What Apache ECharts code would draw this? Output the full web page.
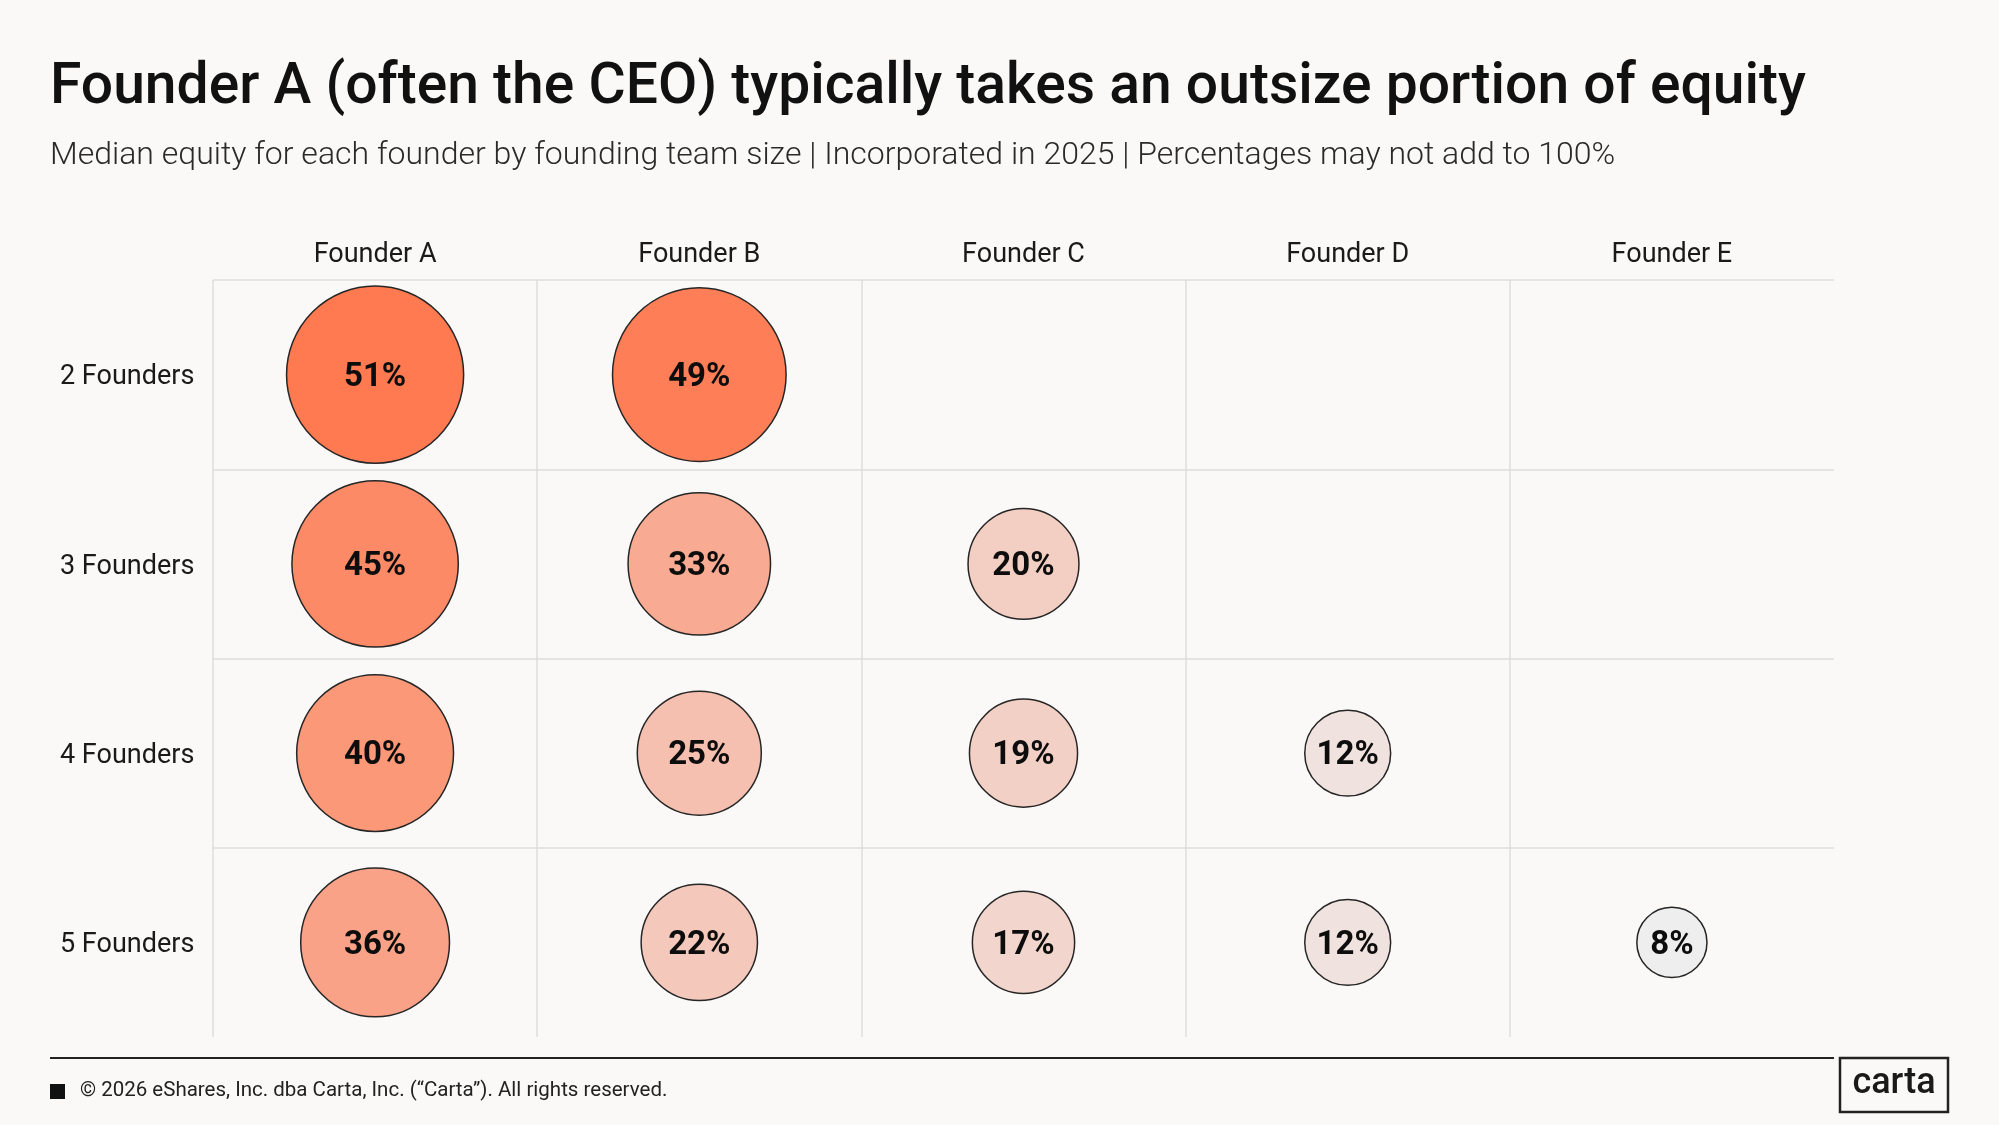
<!DOCTYPE html>
<html>
<head>
<meta charset="utf-8">
<title>Founder equity by team size</title>
<style>
    html, body { margin: 0; padding: 0; background: #faf9f7; }
    #main { width: 1999px; height: 1125px; }
</style>
</head>
<body>
<div id="main"></div>
<script src="https://cdn.jsdelivr.net/npm/echarts@6/dist/echarts.min.js"></script>
<script>
    var founders = ['Founder A', 'Founder B', 'Founder C', 'Founder D', 'Founder E'];
    var teamSizes = ['2 Founders', '3 Founders', '4 Founders', '5 Founders'];
    // median equity (%) per founder, one list per team size
    var equity2 = [51, 49];
    var equity3 = [45, 33, 20];
    var equity4 = [40, 25, 19, 12];
    var equity5 = [36, 22, 17, 12, 8];

    var rows = [equity2, equity3, equity4, equity5];
    var points = [];
    rows.forEach(function (row, r) {
        row.forEach(function (v, c) {
            points.push([founders[c], teamSizes[r], v]);
        });
    });

    // categories are fed in reverse so the skipped tick (index 0) is the
    // outer right / bottom edge, which has no grid line in the original
    var xCats = founders.slice().reverse();
    var yCats = teamSizes.slice().reverse();
    var skipFirst = function (i) { return i > 0; };
    var gridLine = { color: '#dcdcdc', width: 1.5 };

    var myChart = echarts.init(document.getElementById('main'));
    var option = {
        backgroundColor: '#faf9f7',
        textStyle: { fontFamily: 'Roboto' },
        title: [
            {
                text: 'Founder A (often the CEO) typically takes an outsize portion of equity',
                left: 50, top: 60, padding: 0,
                textStyle: { fontFamily: 'Roboto', fontSize: 57, fontWeight: 500, color: '#111111' }
            },
            {
                text: 'Median equity for each founder by founding team size | Incorporated in 2025 | Percentages may not add to 100%',
                left: 50, top: 140, padding: 0,
                textStyle: { fontFamily: 'Roboto', fontSize: 32, fontWeight: 300, color: '#2a2a2a' }
            }
        ],
        grid: { left: 213, right: 165, top: 280, bottom: 88 },
        xAxis: {
            type: 'category',
            data: xCats,
            inverse: true,
            position: 'top',
            axisLine: { show: false },
            axisTick: { length: 47, interval: skipFirst, lineStyle: gridLine },
            splitLine: { show: true, interval: skipFirst, lineStyle: gridLine },
            axisLabel: { margin: 25, verticalAlign: 'middle', fontSize: 27, color: '#1a1a1a' }
        },
        yAxis: {
            type: 'category',
            data: yCats,
            axisLine: { show: false },
            axisTick: { length: 163, interval: skipFirst, lineStyle: gridLine },
            splitLine: { show: true, interval: skipFirst, lineStyle: gridLine },
            axisLabel: {
                margin: 153, align: 'left', verticalAlign: 'middle',
                formatter: '{row|{value}}',
                rich: { row: { fontSize: 27, color: '#1a1a1a', padding: [6, 0, 0, 0] } }
            }
        },
        visualMap: {
            show: false,
            type: 'continuous',
            seriesIndex: 0,
            dimension: 2,
            min: 8,
            max: 51,
            inRange: { color: ['#eeeeee', '#ff7a50'] }
        },
        series: [
            {
                type: 'scatter',
                data: points,
                silent: true,
                symbolSize: function (d) { return 24.8 * Math.sqrt(d[2]); },
                itemStyle: { borderColor: '#262626', borderWidth: 1.5, opacity: 1 },
                label: {
                    show: true,
                    position: 'inside',
                    offset: [0, 3],
                    formatter: function (p) { return p.value[2] + '%'; },
                    fontFamily: 'Roboto',
                    fontSize: 33,
                    fontWeight: 'bold',
                    color: '#0d0d0d'
                }
            }
        ],
        graphic: [
            {
                type: 'line',
                shape: { x1: 50, y1: 1058, x2: 1834, y2: 1058 },
                style: { stroke: '#222222', lineWidth: 2 }
            },
            {
                type: 'rect',
                shape: { x: 50, y: 1084, width: 15, height: 15 },
                style: { fill: '#111111' }
            },
            {
                type: 'text',
                x: 80, y: 1091,
                style: {
                    text: '\u00a9 2026 eShares, Inc. dba Carta, Inc. (\u201cCarta\u201d). All rights reserved.',
                    font: '20.5px Roboto',
                    fill: '#222222',
                    verticalAlign: 'middle'
                }
            },
            {
                type: 'rect',
                shape: { x: 1840, y: 1058, width: 108, height: 54 },
                style: { fill: 'none', stroke: '#222222', lineWidth: 2.5 }
            },
            {
                type: 'text',
                x: 1894, y: 1084,
                style: {
                    text: 'carta',
                    font: '500 36px Roboto',
                    fill: '#1a1a1a',
                    align: 'center',
                    verticalAlign: 'middle'
                }
            }
        ]
    };
    myChart.setOption(option);
</script>
</body>
</html>
